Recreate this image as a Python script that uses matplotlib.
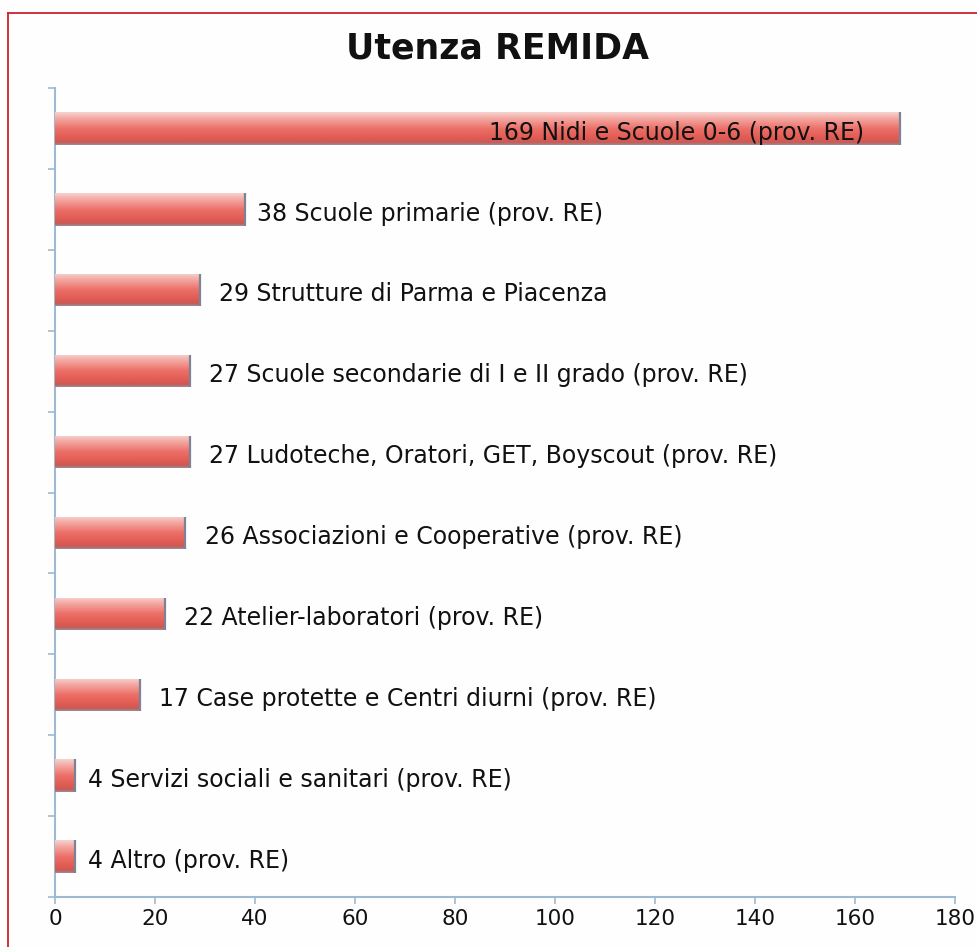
import numpy as np
import matplotlib
matplotlib.use("Agg")
import matplotlib.pyplot as plt
from matplotlib.colors import LinearSegmentedColormap
from matplotlib.lines import Line2D

# data (top to bottom as in the chart)
values = [169, 38, 29, 27, 27, 26, 22, 17, 4, 4]
labels = [
    "Nidi e Scuole 0-6 (prov. RE)",
    "Scuole primarie (prov. RE)",
    "Strutture di Parma e Piacenza",
    "Scuole secondarie di I e II grado (prov. RE)",
    "Ludoteche, Oratori, GET, Boyscout (prov. RE)",
    "Associazioni e Cooperative (prov. RE)",
    "Atelier-laboratori (prov. RE)",
    "Case protette e Centri diurni (prov. RE)",
    "Servizi sociali e sanitari (prov. RE)",
    "Altro (prov. RE)",
]
xticks = [0, 20, 40, 60, 80, 100, 120, 140, 160, 180]
title = "Utenza REMIDA"

# label gap from bar end, in pixels (first label sits inside the bar)
label_gap_px = [-36, 12, 19, 19, 19, 20, 19, 19, 13, 13]

axis_col = "#9dbad0"
bar_h = 0.4

fig = plt.figure(figsize=(9.77, 9.47), dpi=100)
fig.patch.set_facecolor("#fefefe")
ax = fig.add_axes([0.0563, 0.0528, 0.9212, 0.8542])
ax.set_facecolor("#fefefe")

# vertical gradient for the "tube" look of the bars
grad_cmap = LinearSegmentedColormap.from_list(
    "tube",
    [(0.0, "#f6d2cf"), (0.18, "#f4aaa4"), (0.5, "#ec7068"),
     (0.8, "#e05a52"), (0.93, "#c85a55"), (1.0, "#9c8a94")])
grad = np.linspace(0, 1, 64).reshape(-1, 1)

y = np.arange(len(values))
bars = ax.barh(y, values, height=bar_h, color="#e8625c", linewidth=0, zorder=2)
for b, v, yi in zip(bars, values, y):
    im = ax.imshow(grad, cmap=grad_cmap, aspect="auto", origin="upper",
                   extent=[0, v, yi + bar_h / 2, yi - bar_h / 2], zorder=3)
    im.set_clip_path(b)
    # dark cap at the end of the bar
    ax.plot([v, v], [yi - bar_h / 2, yi + bar_h / 2], color="#7d8296",
            lw=1.6, zorder=4, solid_capstyle="butt")

# value + category labels
for i, (v, lab) in enumerate(zip(values, labels)):
    gap = label_gap_px[i] * 72 / fig.dpi
    ax.annotate(f"{v} {lab}", (v, i), xytext=(gap, -3), textcoords="offset points",
                ha="right" if gap < 0 else "left", va="center",
                fontsize=17, color="#111111", zorder=5)

ax.set_xlim(0, 180)
ax.set_ylim(len(values) - 0.5, -0.5)
ax.set_xticks(xticks)
ax.set_xticklabels([str(t) for t in xticks], fontsize=15.5, color="#111111")
ax.set_yticks(np.arange(-0.5, len(values), 1.0))
ax.set_yticklabels([])
ax.tick_params(axis="x", direction="out", length=5, width=1.2, color=axis_col, pad=4)
ax.tick_params(axis="y", direction="out", length=5, width=1.2, color=axis_col)
for s in ["top", "right"]:
    ax.spines[s].set_visible(False)
for s in ["left", "bottom"]:
    ax.spines[s].set_color(axis_col)
    ax.spines[s].set_linewidth(1.5)

fig.text(0.509, 0.949, title, ha="center", va="center", fontsize=25,
         fontweight="bold", color="#111111")

# red frame (left and top edges)
fig.add_artist(Line2D([0.0082, 0.0082], [0, 0.9863], color="#d0202e", lw=1.3,
                      transform=fig.transFigure))
fig.add_artist(Line2D([0.0082, 1.0], [0.9863, 0.9863], color="#d0202e", lw=1.3,
                      transform=fig.transFigure))

fig.savefig("out.png", dpi=100, facecolor=fig.get_facecolor())
